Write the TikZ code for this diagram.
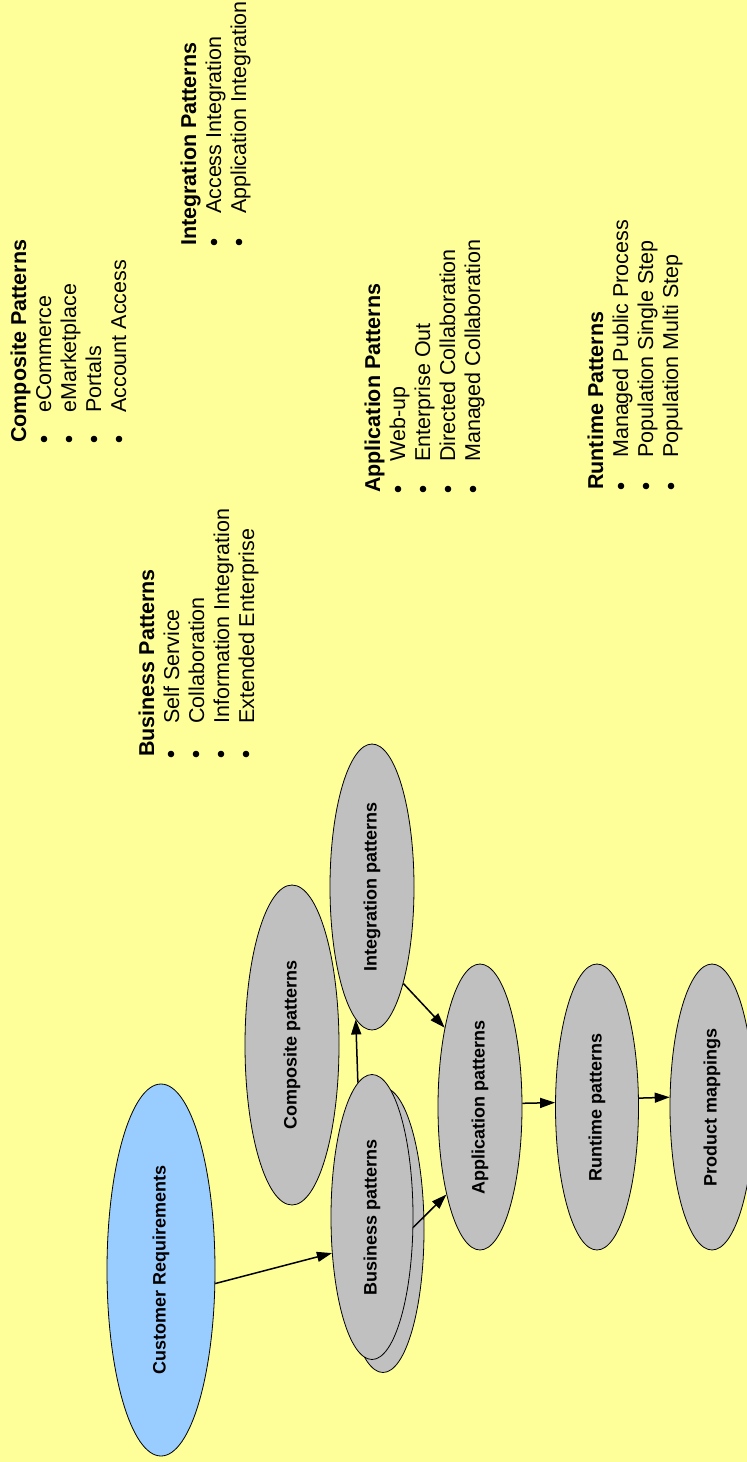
\documentclass[tikz,border=0pt]{standalone}
\usepackage{fontspec}
\setmainfont{Liberation Sans}
\usetikzlibrary{shapes.geometric,arrows.meta}
\definecolor{bg}{HTML}{FFFF99}
\definecolor{patgray}{HTML}{C0C0C0}
\definecolor{reqblue}{HTML}{99CCFF}

\begin{document}
\begin{tikzpicture}[x=1pt,y=-1pt,
  pat/.style={ellipse, draw=black, line width=0.8pt, fill=patgray, inner sep=0pt,
              font=\fontsize{18}{20}\selectfont\bfseries},
  flow/.style={-{Triangle[length=15pt,width=10pt]}, line width=1.5pt},
  head/.style={rotate=90, anchor=base west, inner sep=0pt,
               font=\fontsize{21.5}{25}\selectfont\bfseries},
  entry/.style={rotate=90, anchor=base west, inner sep=0pt,
                font=\fontsize{21.5}{25}\selectfont},
  bul/.style={fill=black}
]
% page background
\fill[bg] (0,0) rectangle (747,1462);
\useasboundingbox (0,0) rectangle (747,1462);

% ---- pattern lists ----
% Composite
\node[head]  (compH) at (26,443) {Composite Patterns};
\node[entry] (comp1) at (51,413) {eCommerce};
\node[entry] (comp2) at (76,413) {eMarketplace};
\node[entry] (comp3) at (101,413) {Portals};
\node[entry] (comp4) at (126,413) {Account Access};
\foreach \x in {44,69,94,119} \fill[bul] (\x,439) circle (3.3);

% Integration
\node[head]  (intH) at (196,246) {Integration Patterns};
\node[entry] (int1) at (221,214) {Access Integration};
\node[entry] (int2) at (246,214) {Application Integration};
\foreach \x in {214,239} \fill[bul] (\x,242) circle (3.3);

% Business
\node[head]  (busH) at (154,757) {Business Patterns};
\node[entry] (bus1) at (179,724) {Self Service};
\node[entry] (bus2) at (204,724) {Collaboration};
\node[entry] (bus3) at (229,724) {Information Integration};
\node[entry] (bus4) at (254,724) {Extended Enterprise};
\foreach \x in {171,196,221,246} \fill[bul] (\x,754) circle (3.3);

% Application
\node[head]  (appH) at (380,493) {Application Patterns};
\node[entry] (app1) at (405,462) {Web-up};
\node[entry] (app2) at (430,462) {Enterprise Out};
\node[entry] (app3) at (455,462) {Directed Collaboration};
\node[entry] (app4) at (480,462) {Managed Collaboration};
\foreach \x in {398,423,448,473} \fill[bul] (\x,489) circle (3.3);

% Runtime
\node[head]  (runH) at (603,490) {Runtime Patterns};
\node[entry] (run1) at (628,458) {Managed Public Process};
\node[entry] (run2) at (653,458) {Population Single Step};
\node[entry] (run3) at (678,458) {Population Multi Step};
\foreach \x in {621,646,671} \fill[bul] (\x,486) circle (3.3);

% ---- pattern ellipses ----
\node[pat, fill=reqblue, minimum width=108pt, minimum height=372pt] (cust) at (161,1270)
  {\rotatebox{90}{Customer Requirements}};
\node[pat, minimum width=94pt, minimum height=320pt] (comp) at (292,1045)
  {\rotatebox{90}{Composite patterns}};
\node[pat, minimum width=84pt, minimum height=286pt] (integ) at (372,887)
  {\rotatebox{90}{Integration patterns}};
\node[pat, minimum width=82pt, minimum height=285pt] (busback) at (383,1230) {};
\node[pat, minimum width=82pt, minimum height=285pt] (bus) at (372,1217)
  {\rotatebox{90}{Business patterns}};
\node[pat, minimum width=84pt, minimum height=286pt] (app) at (480,1107)
  {\rotatebox{90}{Application patterns}};
\node[pat, minimum width=83pt, minimum height=286pt] (run) at (597,1107)
  {\rotatebox{90}{Runtime patterns}};
\node[pat, minimum width=84pt, minimum height=286pt] (prod) at (712,1107)
  {\rotatebox{90}{Product mappings}};

% ---- connectors ----
\draw[flow] (cust.-14) -- (bus.222);
\draw[flow] (bus.96.5) -- (integ.263.4);
\draw[flow] (integ.-72.4) -- (app.114.3);
\draw[flow] (bus.-14) -- (app.249.4);
\draw[flow] (app.5.4) -- (run.174.6);
\draw[flow] (run.12.4) -- (prod.167.6);
\end{tikzpicture}
\end{document}
